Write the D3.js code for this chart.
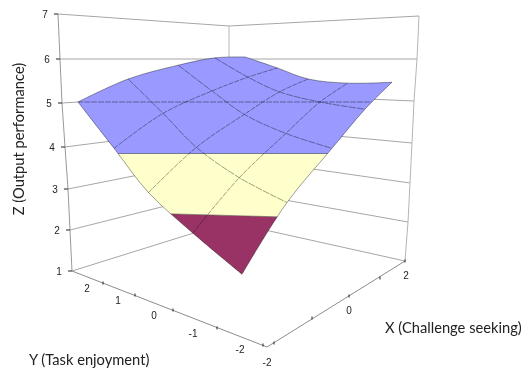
<!DOCTYPE html>
<html><head><meta charset="utf-8">
<script src="https://cdn.jsdelivr.net/npm/d3@7"></script>
<style>html,body{margin:0;padding:0;background:#fff}svg{display:block;filter:blur(0.35px)}</style>
</head><body><svg id="c" width="524" height="372"></svg>
<script>
// ---- data ----
const xValues = [-2, -1, 0, 1, 2];
const yValues = [2, 1, 0, -1, -2];
const zRow_Yp2 = [5.00, 5.50, 5.80, 5.96, 5.98];
const zRow_Yp1 = [4.10, 4.78, 5.24, 5.54, 5.74];
const zRow_Y0  = [3.37, 4.12, 4.76, 5.22, 5.50];
const zRow_Ym1 = [2.74, 3.61, 4.39, 5.00, 5.41];
const zRow_Ym2 = [2.13, 3.21, 4.10, 4.86, 5.43];
const zRows = [zRow_Yp2, zRow_Yp1, zRow_Y0, zRow_Ym1, zRow_Ym2];
const zTicks = [1, 2, 3, 4, 5, 6, 7];
const xTicks = [-2, -1, 0, 1, 2];
const xTickLabels = ["-2", "", "0", "", "2"];
const yTicks = [2, 1, 0, -1, -2];
const yTickLabels = ["2", "1", "0", "-1", "-2"];
const bandLevels = [3, 4, 5];
const bandColors = ["#993366", "#FFFFCC", "#9999FF"];

// ---- layout scales (perspective of the box edges) ----
const svg = d3.select("#c");
const lx = d3.scaleLinear().domain(zTicks).range([72,70,68,65,62,60,58]);
const ly = d3.scaleLinear().domain(zTicks).range([271,230,189,147,103,59,14]);
const bx = d3.scaleLinear().domain(zTicks).range([229,229,229,229,229,229,229]);
const by = d3.scaleLinear().domain(zTicks).range([222,190,157,126,93,59,26]);
const rx = d3.scaleLinear().domain(zTicks).range([405,408,410,412,414,417,419]);
const ry = d3.scaleLinear().domain(zTicks).range([261,222,183,143,101,59,16]);
const axX_x = d3.scaleLinear().domain(xTicks).range([274,312,349,380,405]);
const axX_y = d3.scaleLinear().domain(xTicks).range([343,318,296,278,261]);
const axY_x = d3.scaleLinear().domain(yTicks).range([103,135,173,217,263]);
const axY_y = d3.scaleLinear().domain(yTicks).range([283,295,310,328,345]);

// surface projection
const zToY = d3.scaleLinear().domain([2,3,4,5,6]).range([283,215.5,153.5,102,56]);
const uS = d3.scaleLinear().domain(xValues).range([0,.30,.60,.82,1]);
const vS = d3.scaleLinear().domain(yValues).range([0,.22,.43,.70,1]);
const cornerX = {lb:78, rb:245, lf:242, rf:392};
function proj(X, Y, Z){
  const u=uS(X), v=vS(Y);
  const sx = cornerX.lb*(1-u)*(1-v)+cornerX.rb*u*(1-v)+cornerX.lf*(1-u)*v+cornerX.rf*u*v;
  return [sx, zToY(Z)];
}
const verts = zRows.map((row,j)=>row.map((z,i)=>proj(xValues[i],yValues[j],z)));
const line = d3.line();
const curve = d3.line().curve(d3.curveCatmullRom.alpha(0.5));
const GRID = "#a6a6a6";

// back walls
const walls = svg.append("g").attr("fill","none");
walls.append("path").attr("d",line([[bx(7),by(7)],[bx(1),by(1)]])).attr("stroke","#d8d8d8").attr("stroke-width",1.8);
zTicks.forEach(z=>{
  walls.append("path").attr("d",line([[lx(z),ly(z)],[bx(z),by(z)],[rx(z),ry(z)]]))
    .attr("stroke",GRID).attr("stroke-width",1);
});
walls.append("path").attr("d",line(zTicks.map(z=>[lx(z),ly(z)]))).attr("stroke","#999").attr("stroke-width",1);
walls.append("path").attr("d",line(zTicks.map(z=>[rx(z),ry(z)]))).attr("stroke","#b4b4b4").attr("stroke-width",1);
// floor axes
walls.append("path").attr("d",line([[lx(1),ly(1)],[267,347],[rx(1),ry(1)]])).attr("stroke","#8c8c8c").attr("stroke-width",1);

// ticks and labels
const t = svg.append("g").attr("font-family","'Liberation Sans',Arial,sans-serif").attr("font-size",10).attr("fill","#222");
zTicks.forEach(z=>{
  t.append("line").attr("x1",lx(z)-4).attr("x2",lx(z)).attr("y1",ly(z)).attr("y2",ly(z)).attr("stroke","#222").attr("stroke-width",1);
  t.append("text").attr("x",lx(z)-13).attr("y",ly(z)+4).attr("text-anchor","middle").text(z);
});
xTicks.forEach((v,i)=>{
  t.append("line").attr("x1",axX_x(v)).attr("x2",axX_x(v)).attr("y1",axX_y(v)-1.5).attr("y2",axX_y(v)+1.5).attr("stroke","#222");
  if(xTickLabels[i]) t.append("text").attr("x",v===-2?267:axX_x(v)+(v===2?1:0)).attr("y",axX_y(v)+(v===-2?22.5:17.5)).attr("text-anchor","middle").text(xTickLabels[i]);
});
yTicks.forEach((v,i)=>{
  t.append("line").attr("x1",axY_x(v)).attr("x2",axY_x(v)).attr("y1",axY_y(v)-1.5).attr("y2",axY_y(v)+1.5).attr("stroke","#222");
  t.append("text").attr("x",axY_x(v)-(v===2?16:v===1?17:v===0?19:v===-1?24:23)).attr("y",axY_y(v)+(v===-2?8:9)).attr("text-anchor","middle").text(yTickLabels[i]);
});

// surface
const edgeTop = verts[0];
const edgeRight = verts.map(r=>r[4]);
const edgeFront = verts[4].slice().reverse();
const edgeLeft = verts.map(r=>r[0]).reverse();
const outlineD = curve(edgeTop)+[edgeRight,edgeFront,edgeLeft].map(e=>curve(e).replace(/^M/,"L")).join("")+"Z";
const defs = svg.append("defs");
defs.append("clipPath").attr("id","surf").append("path").attr("d",outlineD);
const tilt = z => z===3 ? 0.028 : 0;
const bound = z => [[0,zToY(z)-tilt(z)*230],[524,zToY(z)+tilt(z)*294]];
const y3 = bound(3), y4 = bound(4);
const bandPolys = [
  [y3[0],y3[1],[524,372],[0,372]],
  [y4[0],y4[1],y3[1],y3[0]],
  [[0,0],[524,0],y4[1],y4[0]]
];
const surf = svg.append("g").attr("clip-path","url(#surf)");
bandColors.forEach((c,k)=>{
  surf.append("path").attr("d",line(bandPolys[k])+"Z").attr("fill",c).attr("stroke",c).attr("stroke-width",.3);
});
// contours
const g2 = surf.append("g").attr("fill","none").attr("stroke","#000").attr("stroke-opacity",.42).attr("stroke-width",.9);
bandLevels.forEach(z=>{
  g2.append("path").attr("d",line(bound(z))).attr("stroke-dasharray",z===5?"6 1":null);
});
// grid lines
const g3 = svg.append("g").attr("fill","none").attr("stroke","#000").attr("stroke-opacity",.42).attr("stroke-width",.9);
verts.forEach((row,j)=>{
  g3.append("path").attr("d",curve(row)).attr("stroke-dasharray",(j>0&&j<4)?"5 1":null);
});
xValues.forEach((_,i)=>{
  g3.append("path").attr("d",curve(verts.map(r=>r[i]))).attr("stroke-dasharray",(i>0&&i<4)?"7 1":null);
});

// titles
const titles = svg.append("g").attr("font-family","Lato,sans-serif").attr("font-size",14.7).attr("fill","#222");
titles.append("text").attr("transform","translate(24,139) rotate(-90)").attr("text-anchor","middle").text("Z (Output performance)");
titles.append("text").attr("x",29).attr("y",365).text("Y (Task enjoyment)");
titles.append("text").attr("x",385).attr("y",333).text("X (Challenge seeking)");
</script></body></html>
